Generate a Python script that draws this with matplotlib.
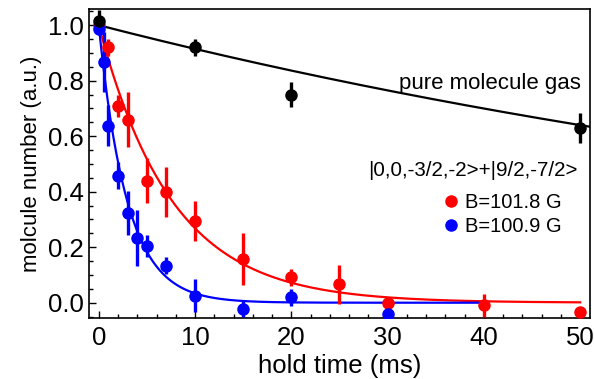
import numpy as np
import matplotlib
matplotlib.use("Agg")
import matplotlib.pyplot as plt
from matplotlib.ticker import MultipleLocator, FormatStrFormatter

plt.rcParams['font.family'] = ['Liberation Sans', 'DejaVu Sans']

# pure molecule gas
t_pure = [0, 10, 20, 50]
n_pure = [1.015, 0.92, 0.75, 0.63]
e_pure = [0.04, 0.03, 0.045, 0.055]

# B = 101.8 G (red)
t_red = [0, 1, 2, 3, 5, 7, 10, 15, 20, 25, 30, 40, 50]
n_red = [1.0, 0.92, 0.71, 0.66, 0.44, 0.40, 0.295, 0.158, 0.091, 0.067, 0.0, -0.01, -0.035]
e_red = [0.02, 0.03, 0.04, 0.10, 0.08, 0.09, 0.072, 0.094, 0.03, 0.07, 0.02, 0.04, 0.01]

# B = 100.9 G (blue)
t_blue = [0, 0.5, 1, 2, 3, 4, 5, 7, 10, 15, 20, 30]
n_blue = [0.985, 0.866, 0.638, 0.458, 0.323, 0.233, 0.205, 0.134, 0.026, -0.023, 0.019, -0.04]
e_blue = [0.02, 0.108, 0.075, 0.05, 0.078, 0.10, 0.04, 0.03, 0.06, 0.03, 0.03, 0.01]

# exponential fits: amplitude, lifetime (ms), end of curve (ms)
fit_pure = (1.0, 112.0, 51.0)
fit_red = (1.0, 7.6, 50.0)
fit_blue = (1.0, 2.95, 40.0)

fig = plt.figure(figsize=(5.94, 3.79), dpi=100)
ax = fig.add_axes([0.150, 0.161, 0.843, 0.815])

def curve(fit, color):
    A, tau, tend = fit
    t = np.linspace(0, tend, 400)
    ax.plot(t, A * np.exp(-t / tau), color=color, lw=1.6, zorder=2)

curve(fit_pure, 'black')
curve(fit_red, '#ff0000')
curve(fit_blue, '#0000ff')

kw = dict(fmt='o', ms=8, elinewidth=2.4, capsize=0, zorder=3)
ax.errorbar(t_red, n_red, yerr=e_red, color='#ff0000', **kw)
ax.errorbar(t_blue, n_blue, yerr=e_blue, color='#0000ff', **kw)
ax.errorbar(t_pure, n_pure, yerr=e_pure, color='black', **kw)

ax.set_xlim(-1.0, 51.0)
ax.set_ylim(-0.055, 1.058)
ax.xaxis.set_major_locator(MultipleLocator(10))
ax.xaxis.set_minor_locator(MultipleLocator(2))
ax.yaxis.set_major_locator(MultipleLocator(0.2))
ax.yaxis.set_minor_locator(MultipleLocator(0.05))
ax.yaxis.set_major_formatter(FormatStrFormatter('%.1f'))
ax.tick_params(which='both', direction='in', top=False, right=False, labelsize=18.5)
ax.tick_params(which='major', length=5, width=1)
ax.tick_params(axis='x', which='major', pad=6)
ax.tick_params(axis='y', which='major', pad=4)
ax.tick_params(which='minor', length=3, width=1)
for s in ax.spines.values():
    s.set_linewidth(1.2)

ax.set_xlabel('hold time (ms)', fontsize=18.5, labelpad=3)
ax.set_ylabel('molcule number (a.u.)', fontsize=16, labelpad=4)

ax.text(0.982, 0.76, 'pure molecule gas', transform=ax.transAxes, ha='right', va='center', fontsize=16)
ax.text(0.976, 0.479, '|0,0,-3/2,-2>+|9/2,-7/2>', transform=ax.transAxes, ha='right', va='center', fontsize=14.8)

h_red = plt.Line2D([], [], ls='none', marker='o', color='#ff0000', ms=8)
h_blue = plt.Line2D([], [], ls='none', marker='o', color='#0000ff', ms=8)
ax.legend([h_red, h_blue], ['B=101.8 G', 'B=100.9 G'], loc='center left', bbox_to_anchor=(0.71, 0.335),
          frameon=False, fontsize=14.5, handlelength=0.6, handletextpad=0.4, labelspacing=0.25,
          borderpad=0, borderaxespad=0)

fig.savefig('out.png', dpi=100)
